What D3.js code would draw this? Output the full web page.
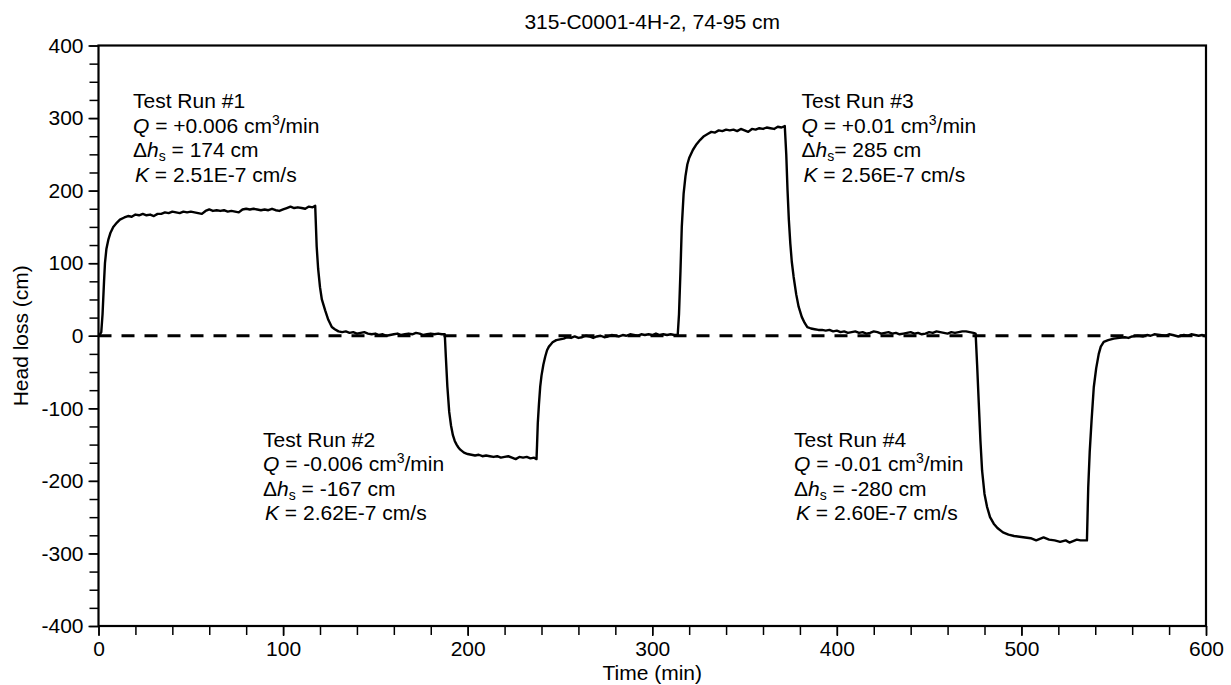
<!DOCTYPE html>
<html>
<head>
<meta charset="utf-8">
<script src="https://cdn.jsdelivr.net/npm/d3@7"></script>
<style>
  body { margin: 0; background: #fff; }
  text { font-family: "Liberation Sans", Arial, Helvetica, sans-serif; fill: #000; }
</style>
</head>
<body>
<div id="chart"></div>
<script>
// time (min) and head loss (cm)
var time = [
  0, 0.8, 1.5, 2.2, 3, 3.5, 4.3, 5.3, 6.5, 8, 10, 11.6,
  14, 16, 18, 20, 22, 24, 26, 28, 30, 32, 34, 36, 38, 40, 42, 44, 46, 48, 50,
  52, 54, 56, 58, 60, 62, 64, 66, 68, 70, 72, 74, 76, 78, 80, 82, 84, 86, 88, 90,
  92, 94, 96, 98, 100, 102, 104, 106, 108, 110, 112, 114, 116, 117.4,
  118.2, 119, 120, 121, 122.8, 124.5, 126.4, 128, 130, 132, 134, 136, 138, 140,
  142, 144, 146, 148, 150, 152, 154, 156, 158, 160, 162, 164, 166, 168, 170,
  172, 174, 176, 178, 180, 182, 184, 186, 187.6,
  188.2, 189, 190, 191, 192, 193, 194, 195, 196, 197, 198, 200, 202, 204, 206,
  208, 210, 212, 214, 216, 218, 220, 222, 224, 226, 228, 230, 232, 234, 236, 237.3,
  237.6, 238, 238.6, 239.3, 240, 241, 242, 243, 244, 245, 246, 248, 250, 252,
  254, 256, 258, 260, 262, 264, 266, 268, 270, 272, 274, 276, 278, 280, 282,
  284, 286, 288, 290, 292, 294, 296, 298, 300, 302, 304, 306, 308, 310, 312, 313.8,
  314.5, 315.3, 316, 317, 318, 319, 320, 322, 324, 326, 328, 330, 332, 334, 336,
  338, 340, 342, 344, 346, 348, 350, 352, 354, 356, 358, 360, 362, 364, 366,
  368, 370, 371.8,
  372.6, 373.3, 374, 374.8, 375.6, 376.6, 378, 379.3, 381, 382.5, 384, 386, 388,
  390, 392, 394, 396, 398, 400, 402, 404, 406, 408, 410, 412, 414, 416, 418, 420,
  422, 424, 426, 428, 430, 432, 434, 436, 438, 440, 442, 444, 446, 448, 450, 452,
  454, 456, 458, 460, 462, 464, 466, 468, 470, 472, 474, 475.2,
  476, 476.9, 477.8, 478.7, 480, 481.4, 483, 485, 487, 490, 493, 496, 499, 502,
  505, 508, 510, 512, 515, 518, 521, 524, 526, 528, 530, 532, 535.5,
  536.2, 537, 538, 539.2, 540.5, 541.9, 543, 544.6, 547, 550, 553, 556, 558, 560,
  563, 566, 568, 570, 572, 575, 578, 580, 582, 585, 588, 590, 592, 594, 596, 598, 600
];
var headLoss = [
  0, 2, 5, 30, 75, 100, 120, 132, 142, 150, 156, 160,
  163, 165, 164, 167, 166, 168, 166, 167, 165, 168, 168, 170, 169, 171, 170, 169, 171, 170, 171,
  170, 169, 168, 172, 174, 172, 173, 172, 173, 171, 172, 171, 170, 174, 175, 174, 175, 174, 173, 174,
  173, 175, 173, 172, 174, 176, 178, 176, 177, 176, 175, 178, 177, 179,
  123, 92, 67, 50, 35, 22, 12, 9, 6, 5, 6, 4, 5, 3,
  4, 5, 3, 2, 3, 1, 2, 0, 1, 2, 3, 1, 2, 3, 2,
  4, 3, 1, 2, 3, 2, 3, 2, 2,
  -30, -70, -105, -124, -137, -145, -150, -154, -157, -159, -161, -163, -164, -165, -164,
  -166, -165, -166, -167, -166, -168, -167, -166, -168, -170, -167, -168, -167, -169, -168, -170,
  -150, -120, -95, -70, -55, -40, -29, -20, -15, -12, -9, -6, -5, -4,
  -2, -3, -1, -3, -2, 0, -1, -3, -1, 0, -2, -1, 1, 0, -1,
  1, 0, 2, 1, 0, 2, 1, 2, 1, 3, 1, 2, 1, 2, 1, 1,
  30, 90, 150, 196, 220, 236, 245, 256, 264, 270, 275, 278, 281, 280, 283,
  282, 284, 283, 284, 282, 285, 283, 281, 285, 284, 286, 285, 287, 286, 285,
  288, 287, 289,
  250, 200, 160, 127, 102, 81, 57, 40, 26, 18, 12, 10, 9,
  8, 8, 7, 8, 6, 7, 5, 6, 4, 5, 6, 4, 5, 3, 4, 6,
  5, 3, 4, 5, 3, 4, 2, 3, 4, 5, 3, 4, 2, 3, 5, 4,
  6, 5, 4, 3, 5, 4, 5, 6, 6, 5, 4, 3,
  -40, -93, -145, -186, -218, -236, -250, -259, -265, -271, -274, -276, -277, -278,
  -279, -282, -280, -278, -281, -282, -284, -282, -285, -283, -281, -282, -282,
  -209, -160, -117, -71, -45, -25, -15, -8.5, -6, -4, -3, -2, -3, -1,
  0, -1, 1, 0, 2, 1, 0, 2, 1, -1, 1, 0, 2, 1, 0, 1, -1
];
var xTicks = [0, 100, 200, 300, 400, 500, 600];
var yTicks = [-400, -300, -200, -100, 0, 100, 200, 300, 400];

// annotation blocks
var runTitles = ["Test Run #1", "Test Run #2", "Test Run #3", "Test Run #4"];
var runQ = ["+0.006", "-0.006", "+0.01", "-0.01"];
var runDh = ["174", "-167", "285", "-280"];
var runK = ["2.51E-7", "2.62E-7", "2.56E-7", "2.60E-7"];

var W = 1231, H = 685;
var margin = {top: 45.5, right: 25, bottom: 59, left: 98.5};
var width = W - margin.left - margin.right,
    height = H - margin.top - margin.bottom;
var fs = 21;

var svg = d3.select("#chart").append("svg")
    .attr("width", W).attr("height", H);
var g = svg.append("g").attr("transform", "translate(" + margin.left + "," + margin.top + ")");

var x = d3.scaleLinear().domain([0, 600]).range([0, width]);
var y = d3.scaleLinear().domain([-400, 400]).range([height, 0]);

function styleAxis(a) {
  a.select(".domain").remove();
  a.selectAll("line").attr("stroke-width", 1.5);
  a.selectAll("text").attr("font-size", fs).attr("font-family", "Liberation Sans, Arial, sans-serif");
}

// minor ticks
g.append("g")
    .attr("transform", "translate(0," + height + ")")
    .call(d3.axisBottom(x).tickValues(d3.range(0, 601, 20)).tickSize(9).tickFormat(""))
    .call(styleAxis);
g.append("g")
    .call(d3.axisLeft(y).tickValues(d3.range(-400, 401, 25)).tickSize(9).tickFormat(""))
    .call(styleAxis);

// major ticks + labels (plain hyphen for minus)
g.append("g")
    .attr("transform", "translate(0," + height + ")")
    .call(d3.axisBottom(x).tickValues(xTicks).tickSize(10).tickPadding(5).tickFormat(function(d) { return String(d); }))
    .call(styleAxis);
g.append("g")
    .call(d3.axisLeft(y).tickValues(yTicks).tickSize(10).tickPadding(5).tickFormat(function(d) { return String(d); }))
    .call(styleAxis);

// zero line
g.append("line")
    .attr("x1", x(0)).attr("x2", x(600))
    .attr("y1", y(0)).attr("y2", y(0))
    .attr("stroke", "#000").attr("stroke-width", 3)
    .attr("stroke-dasharray", "13,10");

// data line
var pts = time.map(function(t, i) { return {t: t, h: headLoss[i]}; });
var line = d3.line()
    .x(function(d) { return x(d.t); })
    .y(function(d) { return y(d.h); });
g.append("path")
    .datum(pts)
    .attr("fill", "none")
    .attr("stroke", "#000")
    .attr("stroke-width", 2.4)
    .attr("stroke-linejoin", "round")
    .attr("d", line);

// frame
g.append("rect")
    .attr("width", width).attr("height", height)
    .attr("fill", "none").attr("stroke", "#000").attr("stroke-width", 2.2);

// title and axis labels
svg.append("text").attr("x", margin.left + width / 2).attr("y", 29)
    .attr("text-anchor", "middle").attr("font-size", fs)
    .text("315-C0001-4H-2, 74-95 cm");
svg.append("text").attr("x", margin.left + width / 2).attr("y", 680)
    .attr("text-anchor", "middle").attr("font-size", fs)
    .text("Time (min)");
svg.append("text")
    .attr("transform", "translate(28," + (margin.top + height / 2) + ") rotate(-90)")
    .attr("text-anchor", "middle").attr("font-size", fs)
    .text("Head loss (cm)");

// annotations
var annPos = [[133, 108], [263, 446.5], [801.5, 108], [794, 446.5]];
var lh = 24.5;
runTitles.forEach(function(title, i) {
  var px = annPos[i][0], py = annPos[i][1];
  var a = svg.append("g").attr("font-size", fs);
  a.append("text").attr("x", px).attr("y", py).text(title);

  var q = a.append("text").attr("x", px).attr("y", py + lh);
  q.append("tspan").attr("font-style", "italic").text("Q");
  q.append("tspan").text(" = " + runQ[i] + " cm");
  q.append("tspan").attr("font-size", 14).attr("dy", -8).text("3");
  q.append("tspan").attr("dy", 8).text("/min");

  var dh = a.append("text").attr("x", px).attr("y", py + 2 * lh);
  dh.append("tspan").text("\u0394");
  dh.append("tspan").attr("font-style", "italic").text("h");
  dh.append("tspan").attr("font-size", 14).attr("dy", 4).text("s");
  dh.append("tspan").attr("dy", -4).text((i === 2 ? "= " : " = ") + runDh[i] + " cm");

  var k = a.append("text").attr("x", px + 2).attr("y", py + 3 * lh);
  k.append("tspan").attr("font-style", "italic").text("K");
  k.append("tspan").text(" = " + runK[i] + " cm/s");
});
</script>
</body>
</html>
